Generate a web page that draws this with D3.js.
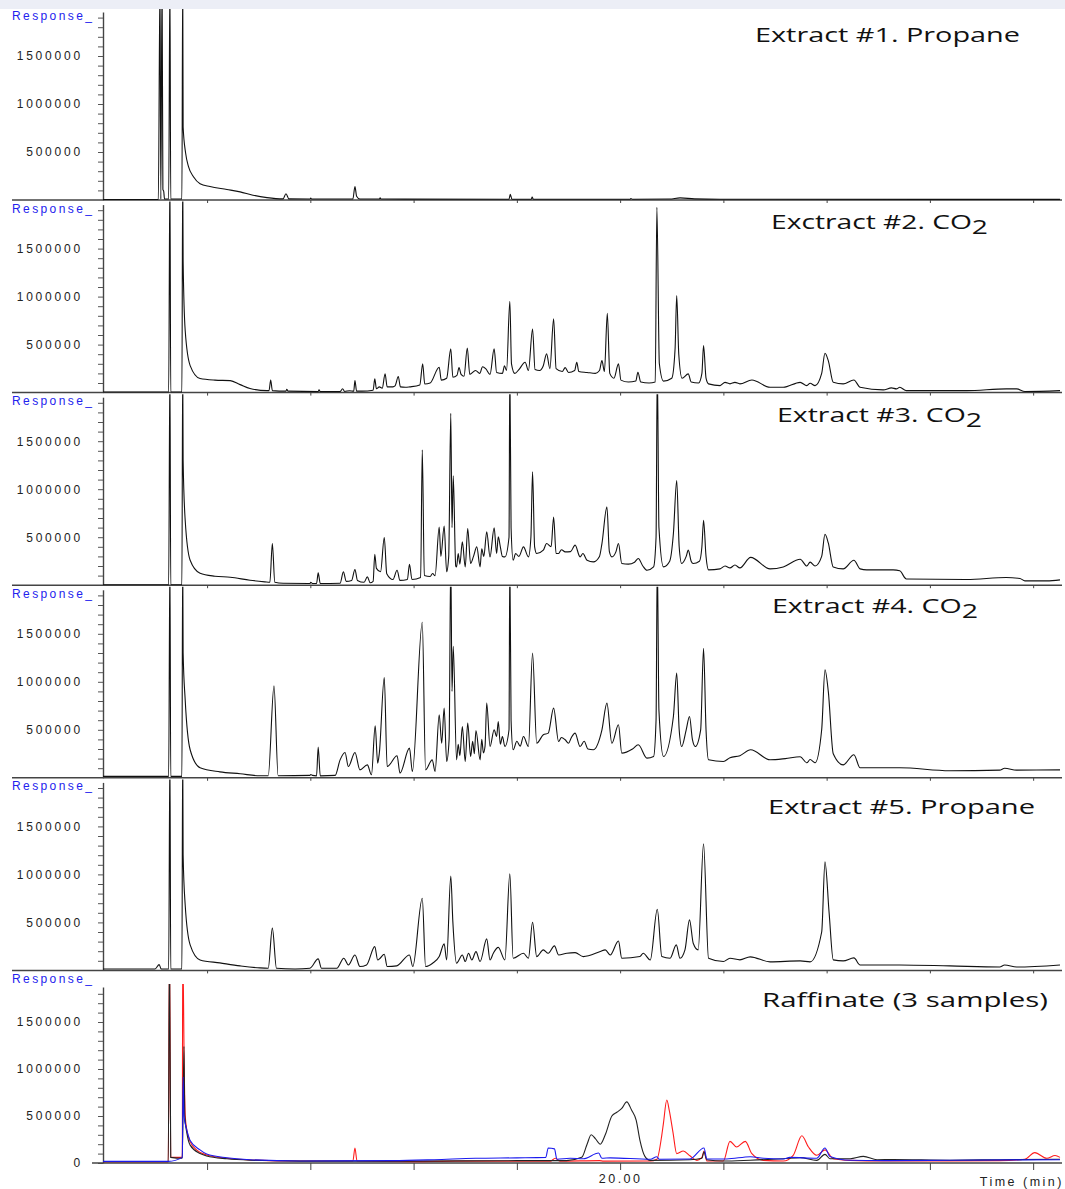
<!DOCTYPE html>
<html>
<head>
<meta charset="utf-8">
<script src="https://cdn.jsdelivr.net/npm/d3@7"></script>
<style>
	body { margin: 0; background: #fff; }
	svg { display: block; }
	.tick text { font-family: "Liberation Sans", Arial, sans-serif; font-size: 12px; letter-spacing: 2.8px; fill: #222; }
	.title { font-family: "Open Sans", sans-serif; font-size: 20px; fill: #111; }
</style>
</head>
<body>
<div id="graphic"></div>
<script>
// time (min), response
var ext1 = [[7.48,5000],[8.82,5000],[8.86,2300000],[8.88,10000],[8.91,2300000],[8.93,110000],[8.95,90000],[8.97,10000],[9.07,10000],[9.10,2300000],[9.12,10000],[9.39,10000],[9.41,2300000],[9.42,760000],[9.48,490000],[9.55,347000],[9.67,243000],[9.83,170000],[10.07,140000],[10.48,110000],[10.80,85000],[11.11,50000],[11.45,25000],[11.84,12000],[11.91,65000],[11.98,12000],[12.49,10000],[12.51,20000],[12.53,10000],[13.53,10000],[13.58,140000],[13.62,40000],[13.70,10000],[14.17,10000],[14.19,22000],[14.21,10000],[17.31,8000],[17.34,60000],[17.38,8000],[17.85,8000],[17.87,30000],[17.90,8000],[20.24,8000],[20.26,15000],[20.30,8000],[21.20,10000],[21.45,22000],[21.80,12000],[22.42,8000],[30.65,6000]];

var ext2 = [[7.48,5000],[9.07,5000],[9.10,2300000],[9.12,5000],[9.39,5000],[9.41,2300000],[9.42,1370000],[9.47,646000],[9.59,281000],[9.83,146000],[10.19,130000],[10.56,125000],[10.80,83000],[11.04,42000],[11.45,21000],[11.50,21000],[11.54,132000],[11.58,21000],[11.91,15000],[11.93,35000],[11.96,15000],[12.69,10000],[12.71,30000],[12.74,10000],[13.22,10000],[13.28,40000],[13.33,12000],[13.45,20000],[13.55,15000],[13.58,125000],[13.62,15000],[13.75,15000],[14.02,25000],[14.06,143000],[14.10,40000],[14.17,60000],[14.24,45000],[14.31,195000],[14.36,60000],[14.50,60000],[14.55,70000],[14.63,167000],[14.68,60000],[14.80,55000],[14.91,60000],[15.15,80000],[15.22,299000],[15.27,90000],[15.40,100000],[15.62,264000],[15.67,130000],[15.80,150000],[15.90,455000],[15.95,160000],[16.05,180000],[16.10,260000],[16.15,190000],[16.22,170000],[16.30,465000],[16.36,190000],[16.50,230000],[16.60,200000],[16.67,270000],[16.75,247000],[16.85,190000],[16.95,455000],[17.01,210000],[17.15,200000],[17.20,280000],[17.25,230000],[17.33,951000],[17.37,300000],[17.45,200000],[17.55,240000],[17.70,316000],[17.78,230000],[17.88,663000],[17.94,240000],[18.05,230000],[18.14,280000],[18.22,403000],[18.30,250000],[18.39,768000],[18.45,250000],[18.60,220000],[18.67,260000],[18.75,210000],[18.90,230000],[18.95,316000],[19.00,220000],[19.20,210000],[19.40,200000],[19.50,230000],[19.56,333000],[19.62,220000],[19.69,826000],[19.75,200000],[19.85,150000],[19.96,299000],[20.02,130000],[20.20,110000],[20.38,120000],[20.43,212000],[20.50,110000],[20.70,100000],[20.85,110000],[20.89,1930000],[20.95,300000],[21.05,120000],[21.25,150000],[21.33,450000],[21.37,1010000],[21.42,400000],[21.50,150000],[21.65,195000],[21.72,110000],[21.90,100000],[21.98,200000],[22.02,490000],[22.08,150000],[22.14,91000],[22.42,73000],[22.54,107000],[22.66,91000],[22.78,107000],[22.90,91000],[23.19,132000],[23.63,55000],[23.95,55000],[24.36,107000],[24.52,73000],[24.60,97000],[24.72,73000],[24.88,200000],[24.96,410000],[25.04,333000],[25.16,107000],[25.40,91000],[25.66,132000],[25.81,55000],[26.37,28000],[26.57,49000],[26.69,39000],[26.77,55000],[26.93,21000],[28.39,21000],[29.35,39000],[29.60,39000],[29.80,12000],[30.65,21000]];

var ext3 = [[7.48,5000],[9.07,5000],[9.10,2300000],[9.12,5000],[9.39,5000],[9.41,2300000],[9.42,1300000],[9.47,677000],[9.59,260000],[9.83,125000],[10.19,94000],[10.56,83000],[11.04,52000],[11.40,35000],[11.52,30000],[11.58,434000],[11.64,30000],[11.84,20000],[12.49,18000],[12.51,30000],[12.55,18000],[12.65,18000],[12.69,128000],[12.74,18000],[13.22,20000],[13.30,139000],[13.37,40000],[13.50,50000],[13.58,164000],[13.64,50000],[13.80,30000],[13.88,87000],[13.95,25000],[14.02,40000],[14.06,323000],[14.10,175000],[14.20,140000],[14.29,497000],[14.35,120000],[14.50,60000],[14.60,156000],[14.67,50000],[14.85,60000],[14.90,219000],[14.96,60000],[15.17,80000],[15.21,1410000],[15.26,100000],[15.40,90000],[15.46,122000],[15.52,100000],[15.62,607000],[15.66,300000],[15.74,615000],[15.80,140000],[15.85,300000],[15.90,1790000],[15.93,600000],[15.96,1140000],[16.02,200000],[16.04,190000],[16.08,330000],[16.12,220000],[16.18,451000],[16.25,190000],[16.31,591000],[16.38,226000],[16.45,300000],[16.53,399000],[16.61,190000],[16.65,380000],[16.70,300000],[16.77,555000],[16.85,295000],[16.95,597000],[17.01,330000],[17.05,503000],[17.10,400000],[17.15,300000],[17.21,295000],[17.31,500000],[17.33,2300000],[17.36,600000],[17.41,260000],[17.47,330000],[17.55,300000],[17.66,399000],[17.78,295000],[17.84,500000],[17.88,1180000],[17.93,400000],[17.98,330000],[18.14,365000],[18.22,434000],[18.33,400000],[18.39,711000],[18.45,330000],[18.51,330000],[18.58,370000],[18.67,347000],[18.80,350000],[18.91,417000],[19.03,295000],[19.10,330000],[19.20,260000],[19.35,243000],[19.50,300000],[19.56,434000],[19.68,816000],[19.74,350000],[19.80,295000],[19.90,350000],[19.96,434000],[20.04,226000],[20.20,220000],[20.35,240000],[20.44,278000],[20.55,200000],[20.65,156000],[20.81,191000],[20.87,500000],[20.90,2300000],[20.94,600000],[21.05,191000],[21.20,250000],[21.29,538000],[21.37,1090000],[21.43,400000],[21.49,226000],[21.60,300000],[21.65,365000],[21.72,250000],[21.77,226000],[21.92,250000],[21.98,400000],[22.02,677000],[22.08,300000],[22.14,160000],[22.42,170000],[22.54,200000],[22.66,180000],[22.78,210000],[22.90,180000],[23.16,290000],[23.63,170000],[23.95,190000],[24.36,270000],[24.52,200000],[24.60,240000],[24.72,200000],[24.88,300000],[24.96,530000],[25.04,440000],[25.16,190000],[25.40,170000],[25.66,260000],[25.81,170000],[25.97,160000],[26.61,160000],[26.77,150000],[26.93,65000],[28.39,60000],[29.35,80000],[29.68,70000],[29.80,45000],[30.33,45000],[30.65,55000]];

var ext4 = [[7.48,15000],[9.07,15000],[9.10,2300000],[9.12,15000],[9.39,15000],[9.41,2300000],[9.42,1300000],[9.47,812000],[9.59,292000],[9.83,104000],[10.31,62000],[10.80,42000],[11.28,21000],[11.48,21000],[11.62,958000],[11.72,21000],[12.49,25000],[12.51,35000],[12.55,25000],[12.65,20000],[12.69,320000],[12.74,20000],[13.10,25000],[13.22,187000],[13.34,264000],[13.42,117000],[13.58,264000],[13.70,83000],[13.88,135000],[13.98,31000],[14.07,542000],[14.13,153000],[14.17,256000],[14.29,1045000],[14.36,117000],[14.60,229000],[14.67,49000],[14.90,309000],[14.97,66000],[15.21,1620000],[15.29,83000],[15.45,187000],[15.52,66000],[15.62,656000],[15.68,360000],[15.74,726000],[15.80,170000],[15.86,400000],[15.90,2300000],[15.93,900000],[15.96,1370000],[16.04,187000],[16.08,350000],[16.12,230000],[16.18,534000],[16.25,170000],[16.31,570000],[16.38,222000],[16.43,380000],[16.47,250000],[16.51,493000],[16.61,187000],[16.65,400000],[16.69,260000],[16.73,330000],[16.77,778000],[16.85,326000],[16.95,500000],[17.01,430000],[17.05,586000],[17.10,350000],[17.15,430000],[17.21,326000],[17.31,500000],[17.33,2300000],[17.36,600000],[17.41,292000],[17.50,380000],[17.58,330000],[17.66,430000],[17.78,326000],[17.88,1300000],[17.98,360000],[18.14,448000],[18.26,465000],[18.39,726000],[18.51,378000],[18.58,420000],[18.67,396000],[18.75,360000],[18.82,420000],[18.91,465000],[19.03,326000],[19.13,380000],[19.22,300000],[19.35,292000],[19.56,500000],[19.68,778000],[19.80,360000],[19.96,552000],[20.04,257000],[20.30,300000],[20.44,344000],[20.65,205000],[20.81,222000],[20.87,600000],[20.90,2300000],[20.94,700000],[21.05,222000],[21.29,639000],[21.37,1090000],[21.43,500000],[21.49,326000],[21.60,500000],[21.68,639000],[21.75,400000],[21.82,326000],[21.95,500000],[22.02,1350000],[22.08,500000],[22.14,188000],[22.50,170000],[22.66,210000],[22.90,230000],[23.16,292000],[23.63,188000],[24.00,200000],[24.36,219000],[24.52,156000],[24.60,190000],[24.72,156000],[24.88,500000],[24.96,1125000],[25.04,900000],[25.16,250000],[25.40,135000],[25.66,240000],[25.81,104000],[26.77,104000],[27.98,73000],[29.19,80000],[29.31,100000],[29.60,80000],[30.65,83000]];

var ext5 = [[7.48,15000],[8.74,15000],[8.84,60000],[8.89,15000],[9.07,15000],[9.10,2300000],[9.12,15000],[9.39,15000],[9.41,2300000],[9.42,1200000],[9.47,682000],[9.59,266000],[9.83,109000],[10.31,78000],[10.80,47000],[11.28,26000],[11.48,23000],[11.58,440000],[11.68,23000],[12.13,15000],[12.49,23000],[12.69,120000],[12.77,23000],[13.14,23000],[13.31,127000],[13.42,57000],[13.58,161000],[13.70,40000],[13.86,57000],[14.06,248000],[14.13,109000],[14.19,127000],[14.29,169000],[14.36,40000],[14.59,47000],[14.90,161000],[14.98,40000],[15.21,752000],[15.29,40000],[15.46,75000],[15.62,144000],[15.74,276000],[15.80,109000],[15.90,984000],[15.95,508000],[16.04,75000],[16.18,161000],[16.25,92000],[16.33,179000],[16.41,109000],[16.51,196000],[16.61,92000],[16.77,328000],[16.85,109000],[16.93,179000],[17.05,240000],[17.21,109000],[17.33,1005000],[17.41,127000],[17.66,179000],[17.78,127000],[17.88,502000],[17.98,144000],[18.14,214000],[18.26,179000],[18.41,255000],[18.51,161000],[18.71,179000],[18.91,185000],[19.11,144000],[19.52,196000],[19.64,214000],[19.76,161000],[19.96,307000],[20.04,127000],[20.48,144000],[20.56,179000],[20.73,109000],[20.90,637000],[21.01,144000],[21.21,127000],[21.36,266000],[21.45,127000],[21.57,214000],[21.68,526000],[21.77,283000],[21.89,214000],[22.02,1318000],[22.14,127000],[22.50,92000],[22.66,127000],[22.90,110000],[23.15,141000],[23.63,89000],[24.36,99000],[24.60,89000],[24.88,400000],[24.96,1130000],[25.06,600000],[25.16,110000],[25.40,99000],[25.66,130000],[25.81,57000],[26.77,57000],[27.98,47000],[29.19,36000],[29.31,57000],[29.60,36000],[30.65,57000]];

var rafBlack = [[7.48,13000],[9.06,13000],[9.09,2300000],[9.12,60000],[9.40,50000],[9.44,1240000],[9.46,500000],[9.51,320000],[9.59,190000],[9.83,100000],[9.99,75000],[10.48,45000],[11.04,30000],[12.25,20000],[15.00,20000],[17.50,25000],[18.70,25000],[19.07,60000],[19.20,200000],[19.30,300000],[19.40,259000],[19.52,200000],[19.64,300000],[19.80,500000],[19.92,540000],[20.04,580000],[20.16,650000],[20.28,560000],[20.39,454000],[20.48,241000],[20.60,71000],[20.73,28000],[21.69,35000],[21.98,50000],[22.03,120000],[22.10,35000],[22.50,21000],[23.15,30000],[23.95,46000],[24.36,57000],[24.76,28000],[24.96,92000],[25.08,46000],[25.57,46000],[25.89,71000],[26.22,35000],[26.61,38000],[27.98,30000],[29.19,35000],[30.65,40000]];

var rafBlue = [[7.48,17000],[9.06,17000],[9.40,60000],[9.42,915000],[9.44,500000],[9.51,350000],[9.59,240000],[9.83,140000],[9.99,95000],[10.48,55000],[11.04,35000],[12.25,22000],[14.50,25000],[15.50,35000],[16.50,50000],[17.50,55000],[18.20,60000],[18.26,160000],[18.41,150000],[18.47,40000],[18.79,50000],[19.11,45000],[19.48,106000],[19.56,50000],[19.76,55000],[20.73,40000],[20.89,67000],[20.95,40000],[21.69,43000],[22.03,160000],[22.10,43000],[22.58,43000],[23.15,67000],[23.47,50000],[23.95,43000],[24.11,60000],[24.76,50000],[24.96,160000],[25.08,70000],[25.57,30000],[26.37,25000],[28.00,30000],[30.65,35000]];

var rafRed = [[7.48,15000],[9.06,15000],[9.09,2300000],[9.12,60000],[9.40,60000],[9.41,2300000],[9.45,900000],[9.47,510000],[9.51,350000],[9.59,227000],[9.75,138000],[9.99,85000],[10.48,50000],[11.04,32000],[12.25,21000],[13.53,21000],[13.58,160000],[13.63,21000],[15.00,15000],[16.00,20000],[17.50,20000],[18.31,20000],[18.43,50000],[18.55,20000],[19.50,25000],[19.60,20000],[20.73,21000],[20.89,40000],[21.01,300000],[21.05,427000],[21.13,670000],[21.19,560000],[21.28,326000],[21.37,100000],[21.53,127000],[21.69,77000],[21.86,28000],[21.98,60000],[22.03,127000],[22.10,21000],[22.50,21000],[22.66,230000],[22.82,170000],[23.03,230000],[23.19,99000],[23.47,28000],[23.95,21000],[24.19,82000],[24.40,290000],[24.56,170000],[24.76,82000],[24.96,140000],[25.16,46000],[25.57,28000],[26.37,21000],[29.19,25000],[29.80,40000],[30.04,110000],[30.33,50000],[30.53,80000],[30.65,60000]];

var xTicks = [10, 12.5, 15, 17.5, 20, 22.5, 25, 27.5, 30];
var yMajor = [500000, 1000000, 1500000];
var titles = ['Extract #1. Propane', 'Exctract #2. CO', 'Extract #3. CO', 'Extract #4. CO', 'Extract #5. Propane', 'Raffinate (3 samples)'];
var subs = ['', '2', '2', '2', '', ''];

// raffinate drawn red first so the black solvent spike sits on top
var panels = [
	[{ data: ext1, color: '#111' }],
	[{ data: ext2, color: '#111' }],
	[{ data: ext3, color: '#111' }],
	[{ data: ext4, color: '#111' }],
	[{ data: ext5, color: '#111' }],
	[{ data: rafRed, color: '#ff1c1c' }, { data: rafBlack, color: '#222' }, { data: rafBlue, color: '#1a1aee' }]
];

// title placement
var titleX = [755, 771, 777, 772, 768, 762];
var titleW = [265, 217, 205, 206, 267, 286];
var titleY = [42, 229, 422, 613, 814, 1007];

var svg = d3.select('#graphic').append('svg').attr('width', 1065).attr('height', 1189);

svg.append('rect').attr('x', 0).attr('y', 0).attr('width', 1065).attr('height', 9).attr('fill', '#eceef6');

var x = d3.scaleLinear().domain([7.48, 30.65]).range([103, 1060]);

panels.forEach(function (series, i) {
	var last = i === 5;
	var bottom = last ? 1163 : 200 + 192.6 * i;
	var top = last ? 987 : bottom - 188;
	var px = last ? 47 : 48; // pixels per 500000

	var y = d3.scaleLinear()
		.domain([0, (bottom - top) / px * 500000])
		.range([bottom, top]);

	var g = svg.append('g');

	var clipId = 'clip' + i;
	g.append('clipPath').attr('id', clipId)
		.append('rect')
		.attr('x', 103).attr('y', top - 3)
		.attr('width', 960).attr('height', bottom - top + 3);

	// y axis
	var ticks = d3.range(100000, y.domain()[1], 100000);
	if (last) ticks = [0].concat(ticks);
	var yAxis = d3.axisLeft(y)
		.tickValues(ticks)
		.tickSize(5)
		.tickSizeOuter(0)
		.tickPadding(15)
		.tickFormat(function (d) { return (d === 0 || yMajor.indexOf(d) >= 0) ? d : ''; });

	var ya = g.append('g').attr('class', 'y axis').attr('transform', 'translate(103,0)').call(yAxis);
	ya.select('.domain').attr('stroke', '#444').attr('stroke-width', 1.4);
	ya.selectAll('.tick line').attr('stroke', '#555');

	// bottom line
	g.append('line')
		.attr('x1', last ? 92 : 12).attr('x2', 1062)
		.attr('y1', bottom).attr('y2', bottom)
		.attr('stroke', '#444').attr('stroke-width', 1.5);

	// x ticks
	var xAxis = d3.axisBottom(x)
		.tickValues(xTicks)
		.tickSize(last ? 7 : 3)
		.tickPadding(4)
		.tickFormat(function (d) { return (last && d === 20) ? '20.00' : ''; });
	var xa = g.append('g').attr('class', 'x axis').attr('transform', 'translate(0,' + bottom + ')').call(xAxis);
	xa.select('.domain').remove();
	xa.selectAll('.tick line').attr('stroke', '#444');
	xa.selectAll('.tick text').style('font-size', '12.5px').style('letter-spacing', '2.5px');

	// Response_ label
	g.append('text')
		.attr('x', 12).attr('y', 15 + 192.6 * i + 5)
		.style('font-family', '"Liberation Sans", Arial, sans-serif')
		.style('font-size', '12px')
		.style('letter-spacing', '2.4px')
		.attr('fill', '#2323ee')
		.text('Response_');

	// traces
	var line = d3.line()
		.x(function (d) { return x(d[0]); })
		.y(function (d) { return y(d[1]); })
		.curve(d3.curveMonotoneX);
	g.append('g').attr('clip-path', 'url(#' + clipId + ')')
		.selectAll('path')
		.data(series)
		.join('path')
		.attr('d', function (d) { return line(d.data); })
		.attr('fill', 'none')
		.attr('stroke', function (d) { return d.color; })
		.attr('stroke-width', 1.1);

	// title
	var t = g.append('text')
		.attr('class', 'title')
		.attr('x', titleX[i]).attr('y', titleY[i])
		.attr('textLength', titleW[i])
		.attr('lengthAdjust', 'spacingAndGlyphs')
		.text(titles[i]);
	if (subs[i]) {
		t.append('tspan').attr('dy', 5).text(subs[i]);
	}
});

svg.append('text')
	.attr('x', 1064).attr('y', 1186)
	.attr('text-anchor', 'end')
	.style('font-family', '"Liberation Sans", Arial, sans-serif')
	.style('font-size', '12.5px')
	.style('letter-spacing', '2.5px')
	.attr('fill', '#222')
	.text('Time (min)');
</script>
</body>
</html>
